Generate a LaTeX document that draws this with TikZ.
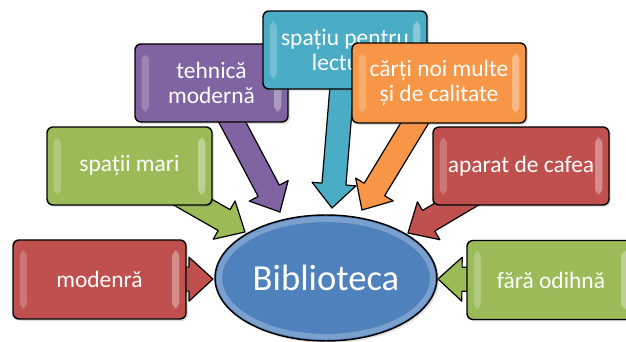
\documentclass[tikz,border=0pt]{standalone}
\usepackage{fontspec}
\setmainfont{Carlito}
\usetikzlibrary{calc,shapes.geometric,shadows}
\definecolor{cRed}{HTML}{C0504D}
\definecolor{cGreen}{HTML}{9BBB59}
\definecolor{cPurple}{HTML}{8064A2}
\definecolor{cAqua}{HTML}{4BACC6}
\definecolor{cOrange}{HTML}{F79646}
\definecolor{cBlue}{HTML}{4F81BD}
\pgfdeclarelayer{bg}
\pgfsetlayers{bg,main}
\newcommand\blockarr[3]{%
  \path (#1) coordinate (ba-s) (#2) coordinate (ba-t);
  \coordinate (ba-h) at ($(ba-t)!18pt!(ba-s)$);
  \filldraw[fill=#3, draw=black, line width=0.9pt, line join=round]
    ($(ba-s)!9pt!90:(ba-t)$) -- ($(ba-h)!9pt!90:(ba-t)$) -- ($(ba-h)!16.5pt!90:(ba-t)$)
    -- (ba-t) -- ($(ba-h)!16.5pt!-90:(ba-t)$) -- ($(ba-h)!9pt!-90:(ba-t)$)
    -- ($(ba-s)!9pt!-90:(ba-t)$) -- cycle;
}
\begin{document}
\begin{tikzpicture}[x=0.75pt,y=-0.75pt,
  box/.style={rounded corners=4.5pt, draw=black, line width=1.1pt, text=white,
    align=center, inner sep=0pt, font=\fontsize{17.6}{18.9}\selectfont,
    drop shadow={opacity=0.25, shadow xshift=1.5pt, shadow yshift=-1.5pt},
    path picture={
      \fill[white,opacity=0.22] ([xshift=5pt,yshift=-8pt]path picture bounding box.north west)
        rectangle ([xshift=10.5pt,yshift=8pt]path picture bounding box.south west);
      \fill[white,opacity=0.35] ([xshift=-5pt,yshift=-8pt]path picture bounding box.north east)
        rectangle ([xshift=-10.5pt,yshift=8pt]path picture bounding box.south east);
    }},
  hub/.style={ellipse, draw=black, line width=1.1pt, fill=cBlue, text=white,
    inner sep=0pt, font=\fontsize{27.5}{30}\selectfont,
    drop shadow={opacity=0.25, shadow xshift=1.5pt, shadow yshift=-1.5pt},
    path picture={
      \draw[white,opacity=0.25,line width=4pt] (path picture bounding box.center)
        ellipse [x radius=80pt, y radius=44pt];
    }}]
\useasboundingbox (0,0) rectangle (626,342);
\clip (0,0) rectangle (626,342);

\node[hub, minimum width=166.5pt, minimum height=94.5pt] (bib) at (326,278) {Biblioteca};

\node[box, fill=cRed, minimum width=129.75pt, minimum height=59.25pt] (modenra) at (99.5,279.5) {modenră};
\node[box, fill=cGreen, minimum width=123.75pt, minimum height=58.5pt] (spatii) at (129.5,166) {spații mari};
\node[box, fill=cPurple, minimum width=114.75pt, minimum height=58.5pt] (tehnica) at (211.5,83) {tehnică\\modernă};
\node[box, fill=cAqua, minimum width=123pt, minimum height=58.5pt] (lectura) at (345,50) {spațiu pentru\\lectură};
\node[box, fill=cOrange, minimum width=130.5pt, minimum height=60pt] (carti) at (439,83) {cărți noi multe\\și de calitate};
\node[box, fill=cRed, minimum width=132pt, minimum height=58.5pt] (cafea) at (521,166) {aparat de cafea};
\node[box, fill=cGreen, minimum width=126pt, minimum height=59.25pt] (odihna) at (551,280) {fără odihnă};

\coordinate (t-modenra) at (213,279);
\coordinate (t-spatii) at (245,232);
\coordinate (t-tehnica) at (280,212);
\coordinate (t-lectura) at (332,208);
\coordinate (t-carti) at (362,210);
\coordinate (t-cafea) at (408,233);
\coordinate (t-odihna) at (438,279);

\begin{pgfonlayer}{bg}
\blockarr{modenra.center}{t-modenra}{cRed}
\blockarr{spatii.center}{t-spatii}{cGreen}
\blockarr{tehnica.center}{t-tehnica}{cPurple}
\blockarr{lectura.center}{t-lectura}{cAqua}
\blockarr{carti.center}{t-carti}{cOrange}
\blockarr{cafea.center}{t-cafea}{cRed}
\blockarr{odihna.center}{t-odihna}{cGreen}
\end{pgfonlayer}
\end{tikzpicture}
\end{document}
